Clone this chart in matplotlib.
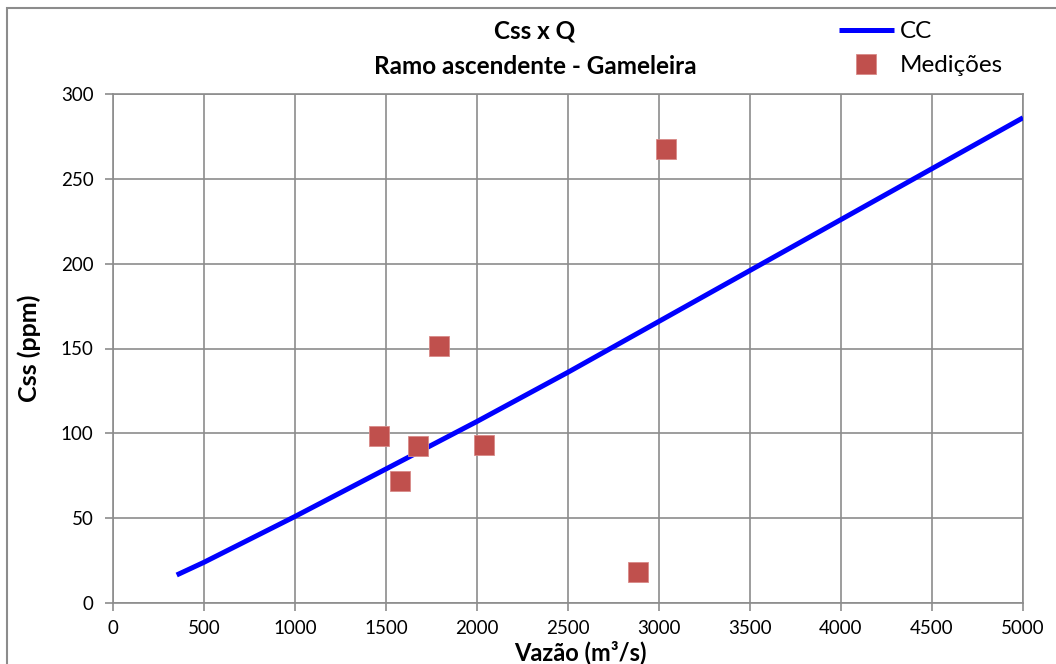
import matplotlib
matplotlib.use("Agg")
import matplotlib.pyplot as plt
from matplotlib.patches import Rectangle

# curva-chave (CC), pontos
cc_q = [350, 500, 1000, 1500, 2000, 2500, 3000, 3500, 4000, 4500, 5000]
cc_css = [16.5, 24, 51, 79, 107, 136, 166, 196, 226, 256, 286]

# medições
med_q = [1459, 1575, 1677, 1793, 2041, 2886, 3038]
med_css = [98.6, 71.7, 92.5, 151.4, 93.3, 18.3, 267.3]

x_ticks = list(range(0, 5001, 500))
y_ticks = list(range(0, 301, 50))

plt.rcParams["font.family"] = ["Lato", "DejaVu Sans"]

fig = plt.figure(figsize=(10.56, 6.64), dpi=100)
ax = fig.add_axes([113 / 1056, 1 - 603 / 664, 910 / 1056, 509 / 664])

# moldura externa do gráfico
fig.add_artist(Rectangle((7 / 1056, -0.1), 1.2, 1.1 - 8 / 664, transform=fig.transFigure,
                         fill=False, edgecolor="#8c8c8c", linewidth=1.5))

line, = ax.plot(cc_q, cc_css, color="#0000ff", linewidth=3.6, solid_capstyle="butt",
                label="CC", zorder=3)
pts, = ax.plot(med_q, med_css, linestyle="none", marker="s", markersize=14,
               color="#c0504d", markeredgecolor="#d98a88", markeredgewidth=0.6,
               label="Medições", zorder=4)

ax.set_xlim(0, 5000)
ax.set_ylim(0, 300)
ax.set_xticks(x_ticks)
ax.set_yticks(y_ticks)
ax.grid(True, color="#8c8c8c", linewidth=1.2)
ax.set_axisbelow(True)
for s in ax.spines.values():
    s.set_color("#8c8c8c")
    s.set_linewidth(1.2)
ax.tick_params(axis="both", direction="out", length=6, width=1.2, color="#8c8c8c",
               labelsize=13.5, labelcolor="black")
ax.tick_params(axis="x", pad=6)
ax.tick_params(axis="y", pad=8)

ax.set_ylabel("Css (ppm)", fontsize=18, fontweight="bold", labelpad=14)
fig.text(580 / 1056, 1 - 652 / 664, "Vazão (m³/s)", ha="center", va="center",
         fontsize=17, fontweight="bold")

fig.text(535 / 1056, 1 - 31 / 664, "Css x Q", ha="center", va="center",
         fontsize=17.5, fontweight="bold")
fig.text(535 / 1056, 1 - 66 / 664, "Ramo ascendente - Gameleira", ha="center", va="center",
         fontsize=17.5, fontweight="bold")

fig.legend(handles=[line, pts], loc="upper left", bbox_to_anchor=(839 / 1056, 1 - 21 / 664),
           frameon=False, fontsize=17.5, handlelength=2.25, handletextpad=0.25,
           labelspacing=0.55, borderpad=0, borderaxespad=0)

fig.savefig("out.png", dpi=100)
